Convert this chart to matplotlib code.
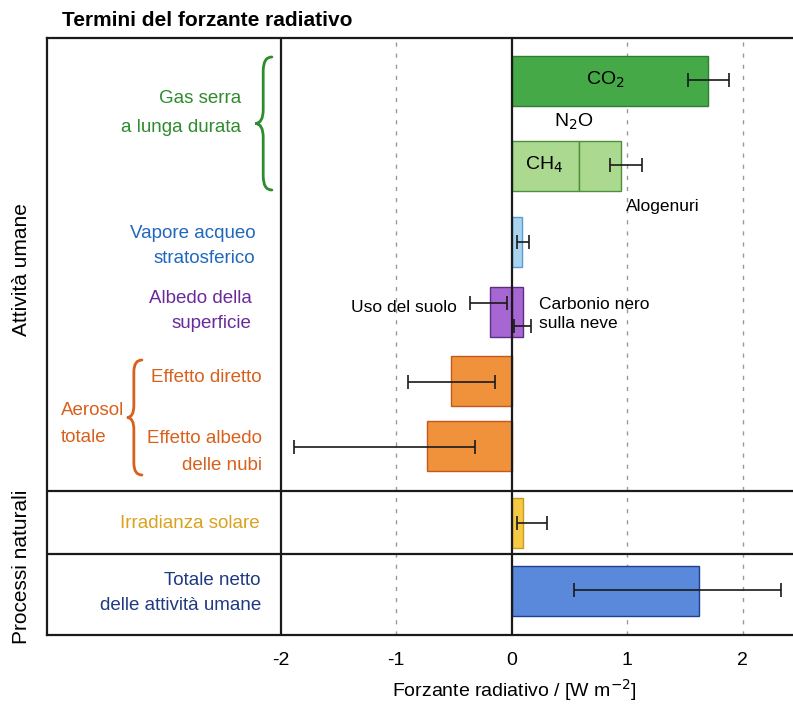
import matplotlib
matplotlib.use("Agg")
import matplotlib.pyplot as plt
from matplotlib.path import Path
from matplotlib.patches import PathPatch

plt.rcParams['font.family'] = ['Liberation Sans', 'DejaVu Sans']

# valori (W m-2)
bar_names = ['CO2', 'CH4', 'N2O + Alogenuri', 'Vapore acqueo', 'Uso del suolo',
             'Carbonio nero', 'Effetto diretto', 'Effetto albedo nubi',
             'Irradianza solare', 'Totale netto']
bar_start = [0, 0, 0.58, 0, 0, 0, 0, 0, 0, 0]
bar_end = [1.70, 0.58, 0.95, 0.09, -0.19, 0.10, -0.52, -0.73, 0.10, 1.62]
err_center = [1.70, 0.95, 0.09, -0.19, 0.10, -0.52, -0.73, 0.10, 1.62]
err_low = [1.53, 0.85, 0.05, -0.36, 0.02, -0.90, -1.88, 0.05, 0.54]
err_high = [1.88, 1.13, 0.15, -0.04, 0.17, -0.14, -0.32, 0.31, 2.33]

# posizioni delle righe (pixel dal bordo superiore del riquadro)
bar_rows = [42.5, 127.5, 127.5, 204, 273.5, 273.5, 343, 408, 484.5, 552.5]
err_rows = [42, 127, 204, 265, 288, 344, 409, 485, 552]
row_h = 50
divisori = [453, 516]
box_h = 597

fill = ['#45a948', '#aad98f', '#aad98f', '#a9d4ef', '#a767d2', '#a767d2',
        '#f0923b', '#f0923b', '#f6c945', '#5a89db']
edge = ['#2f7d33', '#4f8f3a', '#4f8f3a', '#5b9bd0', '#5e2d86', '#5e2d86',
        '#c4581c', '#c4581c', '#c89b20', '#1f3f8f']

fig = plt.figure(figsize=(7.93, 7.04), dpi=100)
ax = fig.add_axes([47 / 793, 69 / 704, 746 / 793, box_h / 704])

for i in range(len(bar_names)):
    ax.barh(bar_rows[i], bar_end[i] - bar_start[i], left=bar_start[i], height=row_h,
            color=fill[i], edgecolor=edge[i], linewidth=1.0, zorder=3)

ax.errorbar(err_center, err_rows,
            xerr=[[c - l for c, l in zip(err_center, err_low)],
                  [h - c for c, h in zip(err_center, err_high)]],
            fmt='none', ecolor='#1a1a1a', elinewidth=1.2, capsize=5, capthick=1.2, zorder=4)

ax.set_xlim(-4.022, 2.437)
ax.set_ylim(box_h, 0)

# linee verticali
ax.axvline(-2, color='#1a1a1a', lw=1.6, zorder=5)
ax.axvline(0, color='#1a1a1a', lw=1.6, zorder=5)
for xv in [-1, 1, 2]:
    ax.axvline(xv, color='#999999', lw=1.0, dashes=(3, 5), zorder=1)
for yv in divisori:
    ax.axhline(yv, color='#1a1a1a', lw=1.6, zorder=5)

for s in ['left', 'top', 'bottom']:
    ax.spines[s].set_linewidth(1.6)
    ax.spines[s].set_color('#1a1a1a')
ax.spines['right'].set_visible(False)

ax.set_yticks([])
ax.set_xticks([-2, -1, 0, 1, 2])
ax.set_xticklabels(['-2', '-1', '0', '1', '2'], fontsize=14)
ax.tick_params(axis='x', length=0, pad=12)
ax.set_xlabel('Forzante radiativo / [W m$^{-2}$]', fontsize=14)
ax.xaxis.set_label_coords(0.627, -0.07)

# etichette nelle barre
ax.text(0.81, 42, 'CO$_2$', fontsize=14, ha='center', va='center', zorder=6)
ax.text(0.54, 84, 'N$_2$O', fontsize=14, ha='center', va='center', zorder=6)
ax.text(0.28, 127, 'CH$_4$', fontsize=14, ha='center', va='center', zorder=6)
ax.text(1.31, 169, 'Alogenuri', fontsize=12.5, ha='center', va='center', zorder=6)
ax.text(-0.47, 270, 'Uso del suolo', fontsize=12.5, ha='right', va='center', zorder=6)
ax.text(0.24, 276, 'Carbonio nero\nsulla neve', fontsize=12.5, ha='left', va='center',
        linespacing=1.4, zorder=6)

# etichette delle righe
labels = [('Gas serra\na lunga durata', -2.34, 75, '#2e8b2e', 1.9),
          ('Vapore acqueo\nstratosferico', -2.22, 208, '#2068bd', 1.6),
          ('Albedo della\nsuperficie', -2.25, 273, '#6a2a9c', 1.6),
          ('Effetto diretto', -2.16, 340, '#d8601c', 1.6),
          ('Effetto albedo\ndelle nubi', -2.16, 414, '#d8601c', 1.7),
          ('Irradianza solare', -2.18, 485, '#d9a21f', 1.6),
          ('Totale netto\ndelle attività umane', -2.17, 555, '#1f3a80', 1.6)]
for txt, xl, yl, col, ls in labels:
    ax.text(xl, yl, txt, fontsize=13.5, color=col, ha='right', va='center',
            multialignment='right', linespacing=ls)
ax.text(-3.90, 386, 'Aerosol\ntotale', fontsize=13.5, color='#d8601c',
        ha='left', va='center', linespacing=1.7)


def graffa(x_tip, x_spine, x_end, y0, y1, r, col):
    ym = (y0 + y1) / 2
    verts = [(x_end, y0), (x_spine, y0), (x_spine, y0 + r),
             (x_spine, ym - r), (x_spine, ym), (x_tip, ym),
             (x_spine, ym), (x_spine, ym + r),
             (x_spine, y1 - r), (x_spine, y1), (x_end, y1)]
    codes = [Path.MOVETO, Path.CURVE3, Path.CURVE3,
             Path.LINETO, Path.CURVE3, Path.CURVE3,
             Path.CURVE3, Path.CURVE3,
             Path.LINETO, Path.CURVE3, Path.CURVE3]
    ax.add_patch(PathPatch(Path(verts, codes), fill=False, edgecolor=col, lw=2.0,
                           capstyle='round', clip_on=False))


graffa(-2.22, -2.15, -2.075, 19, 152, 14, '#2e8b2e')
graffa(-3.33, -3.27, -3.20, 322, 437, 12, '#d8601c')

fig.text(62 / 793, 1 - 20 / 704, 'Termini del forzante radiativo', fontsize=15,
         fontweight='bold', ha='left', va='center')
fig.text(22 / 793, 1 - 270 / 704, 'Attività umane', fontsize=15, rotation=90,
         ha='center', va='center')
fig.text(22 / 793, 1 - 567 / 704, 'Processi naturali', fontsize=15, rotation=90,
         ha='center', va='center')

fig.savefig('out.png', dpi=100, facecolor='white')
